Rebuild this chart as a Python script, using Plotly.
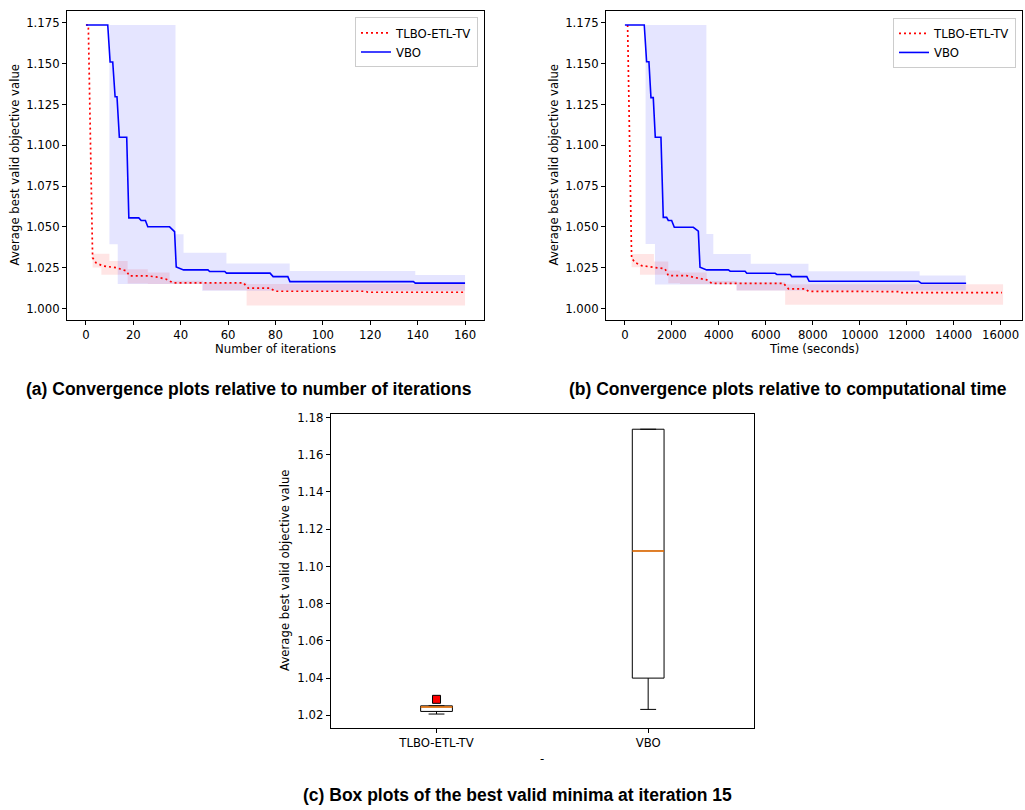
import plotly.graph_objects as go

W, H = 1025, 810

# ---------------- (a) convergence vs iterations ----------------
tlbo_iter_x = [0, 1, 2.8, 4.2, 7.1, 12.7, 17.0, 18.4, 26.1, 29.6, 33.9, 36.7, 66.4, 68.5, 77.7, 79.8, 118, 119, 160]
tlbo_iter_y = [1.1737, 1.1737, 1.0311, 1.0280, 1.0260, 1.0250, 1.0230, 1.0199, 1.0199, 1.0193, 1.0179, 1.0157,
               1.0157, 1.0124, 1.0124, 1.0105, 1.0105, 1.0099, 1.0099]
vbo_iter_x = [0, 9.2, 10.2, 11.3, 12.3, 13.1, 14.1, 17.2, 18.1, 22.3, 23.3, 25.1, 26.1, 35.3, 37.4, 38.1, 41.2,
              51.5, 52.2, 58.6, 59.3, 77.7, 79.0, 85.2, 86.1, 138.2, 139.0, 160]
vbo_iter_y = [1.1737, 1.1737, 1.1510, 1.1510, 1.1297, 1.1297, 1.1049, 1.1049, 1.0555, 1.0555, 1.0539, 1.0539,
              1.0500, 1.0500, 1.0470, 1.0254, 1.0236, 1.0236, 1.0226, 1.0226, 1.0216, 1.0216, 1.0195, 1.0195,
              1.0164, 1.0164, 1.0155, 1.0155]
tlbo_iter_band_x = [2.8, 6.5, 9.9, 17.6, 26.1, 35.3, 49.4, 67.8, 160]
tlbo_iter_band_hi = [1.0335, 1.0335, 1.0291, 1.0240, 1.0220, 1.0169, 1.0159, 1.0149, 1.0149]
tlbo_iter_band_lo = [1.0250, 1.0206, 1.0206, 1.0152, 1.0149, 1.0149, 1.0112, 1.0018, 1.0018]
vbo_iter_band_x = [9.9, 13.4, 37.8, 41.2, 49.0, 59.3, 86.0, 139.0, 160]
vbo_iter_band_hi = [1.1737, 1.1737, 1.0454, 1.0341, 1.0341, 1.0275, 1.0230, 1.0204, 1.0204]
vbo_iter_band_lo = [1.0393, 1.0149, 1.0149, 1.0149, 1.0108, 1.0108, 1.0108, 1.0108, 1.0108]

# ---------------- (b) convergence vs time ----------------
tlbo_time_x = [115, 285, 427, 711, 1208, 1706, 1848, 2630, 2914, 3483, 3696, 6752, 6965, 7660, 7818, 11700, 11760, 16060]
tlbo_time_y = [1.1737, 1.0309, 1.0282, 1.0262, 1.0252, 1.0243, 1.0201, 1.0201, 1.0191, 1.0175, 1.0154, 1.0154,
               1.0120, 1.0120, 1.0105, 1.0103, 1.0097, 1.0097]
vbo_time_x = [0, 825, 924, 1023, 1109, 1208, 1294, 1535, 1634, 1777, 1847, 1990, 2104, 2914, 3127, 3198, 3482,
              4406, 4480, 5117, 5190, 6397, 6470, 7040, 7107, 7747, 7846, 12508, 12623, 14530]
vbo_time_y = [1.1737, 1.1737, 1.1512, 1.1512, 1.1292, 1.1292, 1.1049, 1.1049, 1.0558, 1.0558, 1.0539, 1.0539,
              1.0497, 1.0497, 1.0473, 1.0252, 1.0236, 1.0236, 1.0228, 1.0228, 1.0215, 1.0215, 1.0208, 1.0208,
              1.0195, 1.0195, 1.0166, 1.0166, 1.0154, 1.0154]
tlbo_time_band_x = [285, 640, 1236, 1848, 2346, 3483, 4762, 6823, 16105]
tlbo_time_band_hi = [1.0334, 1.0334, 1.0287, 1.0232, 1.0220, 1.0168, 1.0160, 1.0148, 1.0148]
tlbo_time_band_lo = [1.0252, 1.0207, 1.0207, 1.0154, 1.0149, 1.0149, 1.0109, 1.0022, 1.0022]
vbo_time_band_x = [880, 1279, 3470, 3766, 4748, 5359, 7818, 12551, 14516]
vbo_time_band_hi = [1.1737, 1.1737, 1.0456, 1.0334, 1.0334, 1.0273, 1.0228, 1.0201, 1.0201]
vbo_time_band_lo = [1.0395, 1.0146, 1.0146, 1.0146, 1.0109, 1.0109, 1.0109, 1.0109, 1.0109]

# ---------------- (c) box plots ----------------
box_names = ['TLBO-ETL-TV', 'VBO']
box_pos = [1, 2]
box_q1 = [1.0221, 1.0400]
box_med = [1.0245, 1.1083]
box_q3 = [1.0251, 1.1737]
box_lo = [1.0207, 1.0232]
box_hi = [1.0251, 1.1737]
outlier_x = [1]
outlier_y = [1.0286]

iter_ticks = [0, 20, 40, 60, 80, 100, 120, 140, 160]
time_ticks = [0, 2000, 4000, 6000, 8000, 10000, 12000, 14000, 16000]
conv_yticks = [1.000, 1.025, 1.050, 1.075, 1.100, 1.125, 1.150, 1.175]
box_yticks = [1.02, 1.04, 1.06, 1.08, 1.10, 1.12, 1.14, 1.16, 1.18]

FONT = 'DejaVu Sans'
FS = 11.7
RED_BAND = 'rgba(255,0,0,0.1)'
BLUE_BAND = 'rgba(0,0,255,0.1)'

fig = go.Figure()


def add_band(x, lo, hi, color, xa, ya):
    fig.add_trace(go.Scatter(x=x, y=lo, mode='lines', line=dict(width=0, shape='hv'),
                             hoverinfo='skip', showlegend=False, xaxis=xa, yaxis=ya))
    fig.add_trace(go.Scatter(x=x, y=hi, mode='lines', line=dict(width=0, shape='hv'),
                             fill='tonexty', fillcolor=color, hoverinfo='skip',
                             showlegend=False, xaxis=xa, yaxis=ya))


def add_lines(tx, ty, vx, vy, xa, ya, leg):
    fig.add_trace(go.Scatter(x=tx, y=ty, mode='lines', name='TLBO-ETL-TV',
                             line=dict(color='red', width=1.7, dash='2px,3px'),
                             xaxis=xa, yaxis=ya, legend=leg))
    fig.add_trace(go.Scatter(x=vx, y=vy, mode='lines', name='VBO',
                             line=dict(color='blue', width=1.6),
                             xaxis=xa, yaxis=ya, legend=leg))


add_band(tlbo_iter_band_x, tlbo_iter_band_lo, tlbo_iter_band_hi, RED_BAND, 'x', 'y')
add_band(vbo_iter_band_x, vbo_iter_band_lo, vbo_iter_band_hi, BLUE_BAND, 'x', 'y')
add_lines(tlbo_iter_x, tlbo_iter_y, vbo_iter_x, vbo_iter_y, 'x', 'y', 'legend')

add_band(tlbo_time_band_x, tlbo_time_band_lo, tlbo_time_band_hi, RED_BAND, 'x2', 'y2')
add_band(vbo_time_band_x, vbo_time_band_lo, vbo_time_band_hi, BLUE_BAND, 'x2', 'y2')
add_lines(tlbo_time_x, tlbo_time_y, vbo_time_x, vbo_time_y, 'x2', 'y2', 'legend2')

BOX_W = 0.15
fig.add_trace(go.Box(x=box_pos, q1=box_q1, median=box_med, q3=box_q3,
                     lowerfence=box_lo, upperfence=box_hi, width=BOX_W, whiskerwidth=0.5,
                     line=dict(color='black', width=1), fillcolor='rgba(0,0,0,0)',
                     boxpoints=False, showlegend=False, hoverinfo='skip',
                     xaxis='x3', yaxis='y3'))
mx, my = [], []
for p, m in zip(box_pos, box_med):
    mx += [p - BOX_W / 2, p + BOX_W / 2, None]
    my += [m, m, None]
fig.add_trace(go.Scatter(x=mx, y=my, mode='lines', line=dict(color='#ff7f0e', width=1.5),
                         showlegend=False, hoverinfo='skip', xaxis='x3', yaxis='y3'))
fig.add_trace(go.Scatter(x=outlier_x, y=outlier_y, mode='markers',
                         marker=dict(symbol='square', size=8, color='red',
                                     line=dict(color='black', width=1)),
                         showlegend=False, hoverinfo='skip', xaxis='x3', yaxis='y3'))


def ax(domain, rng, tickvals, ticktext=None, fmt=None, anchor=None):
    d = dict(domain=domain, range=rng, tickvals=tickvals, showline=True, mirror=True,
             linecolor='black', linewidth=1, ticks='outside', ticklen=4, tickwidth=1,
             tickcolor='black', showgrid=False, zeroline=False, anchor=anchor,
             tickfont=dict(family=FONT, size=FS, color='black'))
    if ticktext is not None:
        d['ticktext'] = ticktext
    if fmt is not None:
        d['tickformat'] = fmt
    return d


top_y = [1 - 318 / H, 1 - 8 / H]
leg_common = dict(xanchor='right', yanchor='top', traceorder='normal',
                  bgcolor='rgba(255,255,255,0.8)', bordercolor='#cccccc', borderwidth=1,
                  font=dict(family=FONT, size=FS, color='black'))
fig.update_layout(
    width=W, height=H, margin=dict(l=0, r=0, t=0, b=0),
    paper_bgcolor='white', plot_bgcolor='white',
    xaxis=ax([67 / W, 484 / W], [-8, 168], iter_ticks, fmt='d', anchor='y'),
    yaxis=ax(top_y, [0.9930, 1.1823], conv_yticks, fmt='.3f', anchor='x'),
    xaxis2=ax([606 / W, 1022 / W], [-805, 16910], time_ticks, fmt='d', anchor='y2'),
    yaxis2=ax(top_y, [0.9930, 1.1823], conv_yticks, fmt='.3f', anchor='x2'),
    xaxis3=ax([330.7 / W, 754 / W], [0.5, 2.5], box_pos, ticktext=box_names, anchor='y3'),
    yaxis3=ax([1 - 727.7 / H, 1 - 412.3 / H], [1.0132, 1.1820], box_yticks, fmt='.2f', anchor='x3'),
    legend=dict(x=478 / W, y=1 - 14.5 / H, **leg_common),
    legend2=dict(x=1016 / W, y=1 - 15 / H, **leg_common),
)


def note(text, x, y, size=FS, angle=0, family=FONT):
    fig.add_annotation(text=text, x=x / W, y=1 - y / H, xref='paper', yref='paper',
                       xanchor='center', yanchor='middle', showarrow=False, textangle=angle,
                       font=dict(family=family, size=size, color='black'))


note('Number of iterations', 275.5, 347)
note('Time (seconds)', 814, 347)
note('-', 542, 759)
note('Average best valid objective value', 15, 163, angle=-90)
note('Average best valid objective value', 554, 163, angle=-90)
note('Average best valid objective value', 285, 570, angle=-90)
CAP = 'Liberation Sans'
note('<b>(a) Convergence plots relative to number of iterations</b>', 249, 387, size=17.5, family=CAP)
note('<b>(b) Convergence plots relative to computational time</b>', 788, 387, size=17.5, family=CAP)
note('<b>(c) Box plots of the best valid minima at iteration 15</b>', 517, 795, size=17.5, family=CAP)

fig.write_html('out.html')
